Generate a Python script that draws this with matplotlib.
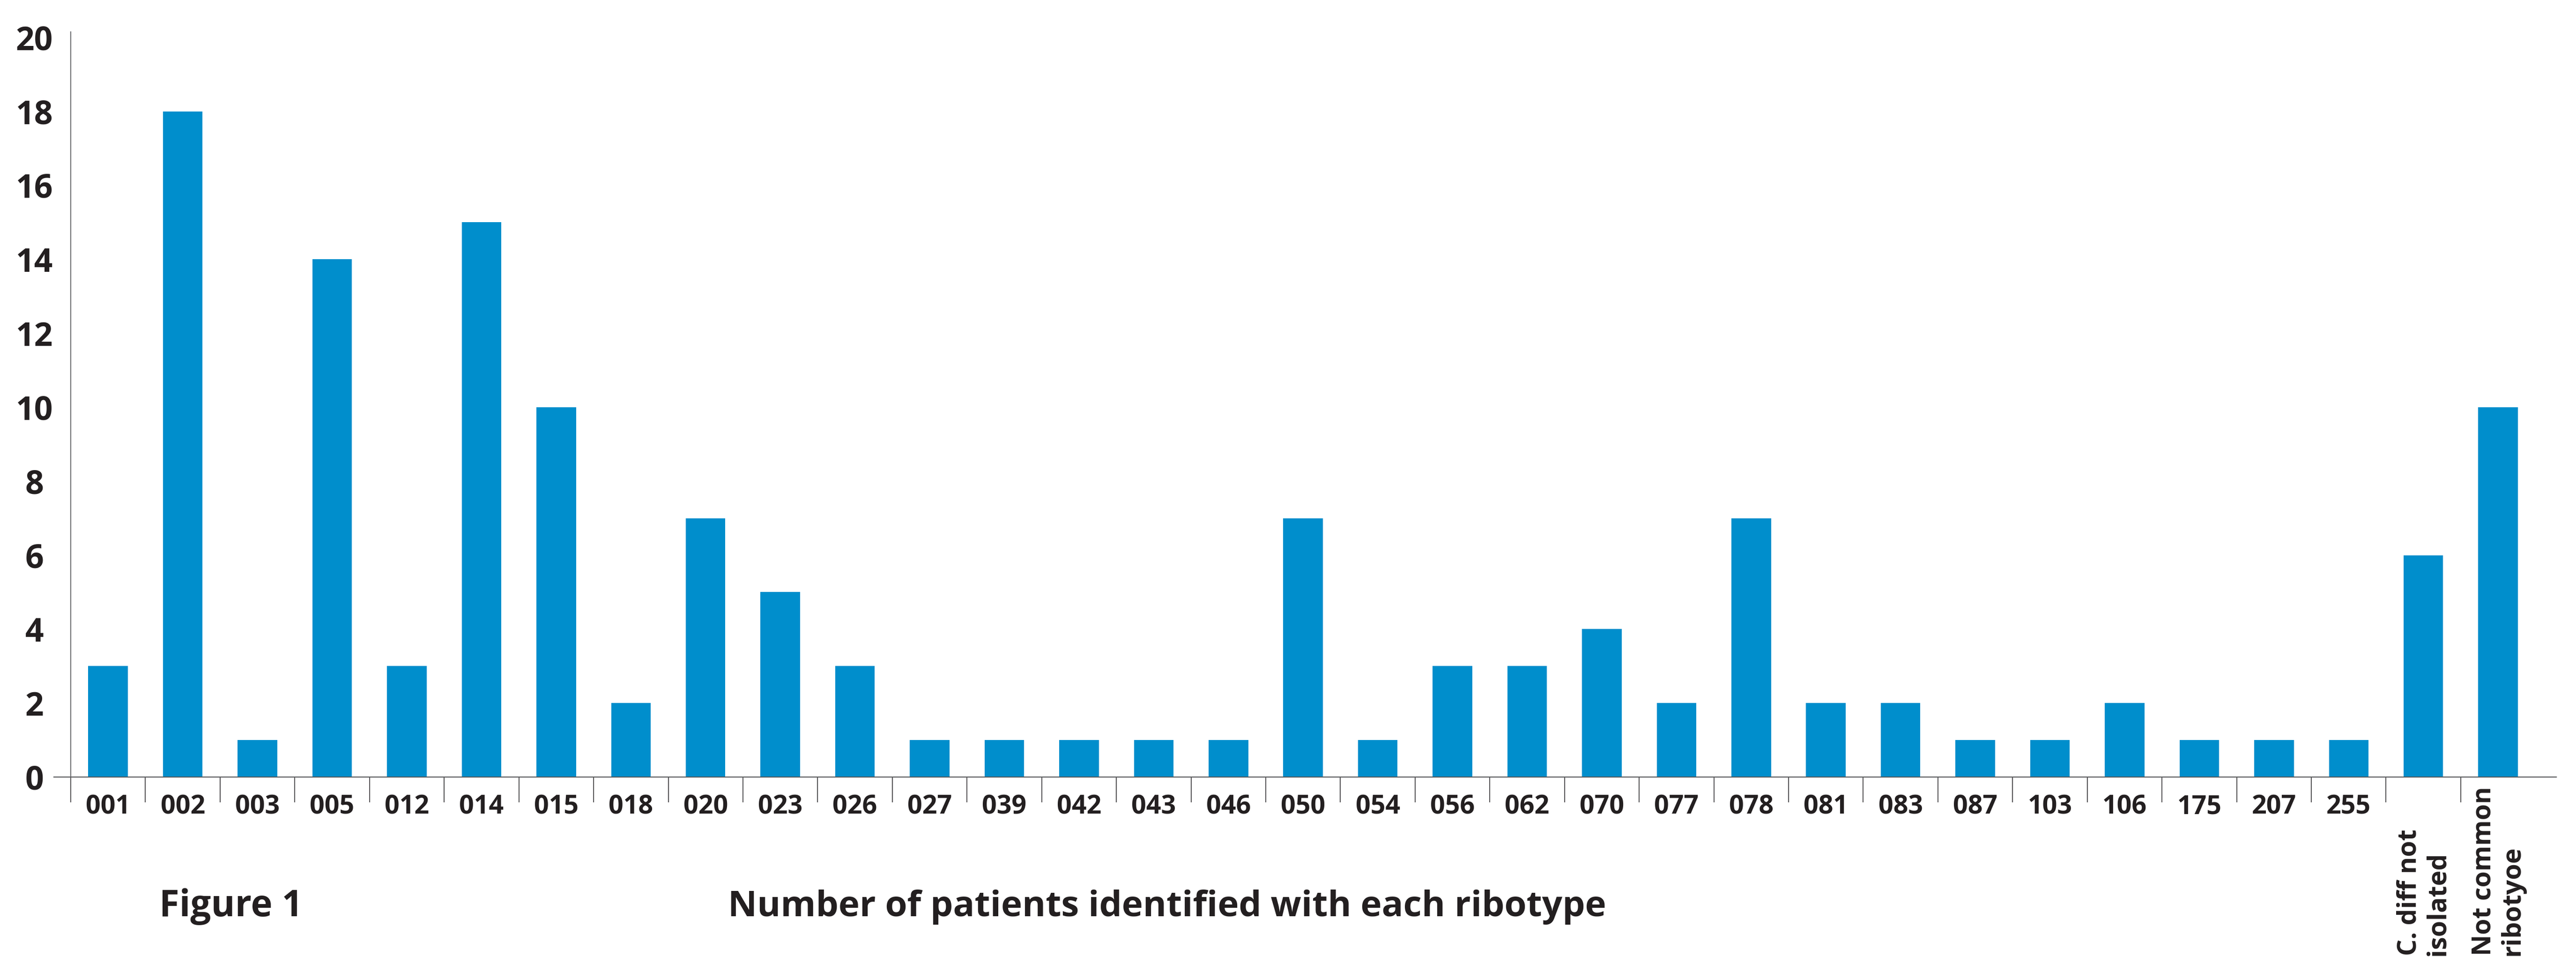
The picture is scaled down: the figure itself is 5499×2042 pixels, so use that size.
import matplotlib
matplotlib.use("Agg")
import matplotlib.pyplot as plt
import matplotlib.transforms as mtransforms
import numpy as np

plt.rcParams['font.family'] = ['Open Sans', 'DejaVu Sans']
plt.rcParams['font.weight'] = 'bold'

ribotypes = ['001', '002', '003', '005', '012', '014', '015', '018', '020', '023',
             '026', '027', '039', '042', '043', '046', '050', '054', '056', '062',
             '070', '077', '078', '081', '083', '087', '103', '106', '175', '207',
             '255', 'C. diff not\nisolated', 'Not common\nribotyoe']
patients = [3, 18, 1, 14, 3, 15, 10, 2, 7, 5,
            3, 1, 1, 1, 1, 1, 7, 1, 3, 3,
            4, 2, 7, 2, 2, 1, 1, 2, 1, 1,
            1, 6, 10]
y_ticks = [0, 2, 4, 6, 8, 10, 12, 14, 16, 18, 20]

bar_color = '#008ecc'
text_color = '#231f20'
W, H = 5499, 2042

fig = plt.figure(figsize=(W / 100, H / 100), dpi=100)
# axes box in pixels: left 115, right 5457, top 68, bottom 1658
ax = fig.add_axes([115 / W, (H - 1658) / H, (5457 - 115) / W, (1658 - 68) / H])

x = np.arange(len(ribotypes))
ax.bar(x, patients, width=0.53, color=bar_color, zorder=2)

ax.set_xlim(-0.726, len(ribotypes) - 0.5 + 0.28)
ax.set_ylim(0, 20.15)

# y axis sits at the left edge of the first category
ax.spines['left'].set_position(('data', -0.5))
ax.spines['left'].set_color('#6d6e71')
ax.spines['left'].set_linewidth(1.5)
ax.spines['bottom'].set_color('#58595b')
ax.spines['bottom'].set_linewidth(1.5)
ax.spines['top'].set_visible(False)
ax.spines['right'].set_visible(False)

ax.set_yticks(y_ticks)
ax.set_yticklabels([str(v) for v in y_ticks], fontsize=50, fontweight='bold',
                   color=text_color, ha='center')
ax.tick_params(axis='y', length=0, pad=56)

# category labels at the centres, tick marks on the boundaries
short = [lab if '\n' not in lab else '' for lab in ribotypes]
ax.set_xticks(x)
ax.set_xticklabels(short, fontsize=40, fontweight='bold', color=text_color)
ax.set_xticks(np.arange(-0.5, len(ribotypes) - 1, 1), minor=True)
ax.tick_params(axis='x', which='major', length=0, pad=26)
ax.tick_params(axis='x', which='minor', direction='out', length=39,
               width=1.3, color='#414042')

# the two long categories get rotated, wrapped labels reaching the bottom edge
trans = mtransforms.blended_transform_factory(ax.transData, fig.transFigure)
for i, lab in enumerate(ribotypes):
    if '\n' in lab:
        ax.text(i, 3 / H, lab, transform=trans, rotation=90,
                ha='center', va='bottom', multialignment='left',
                linespacing=1.15, fontsize=40, fontweight='bold',
                color=text_color, clip_on=False)

fig.text(340 / W, (H - 1955) / H, 'Figure 1', fontsize=56, fontweight='bold',
         color=text_color, ha='left', va='baseline')
fig.text(1554 / W, (H - 1955) / H, 'Number of patients identified with each ribotype',
         fontsize=55, fontweight='bold', color=text_color, ha='left', va='baseline')

fig.savefig('out.png', dpi=100)
